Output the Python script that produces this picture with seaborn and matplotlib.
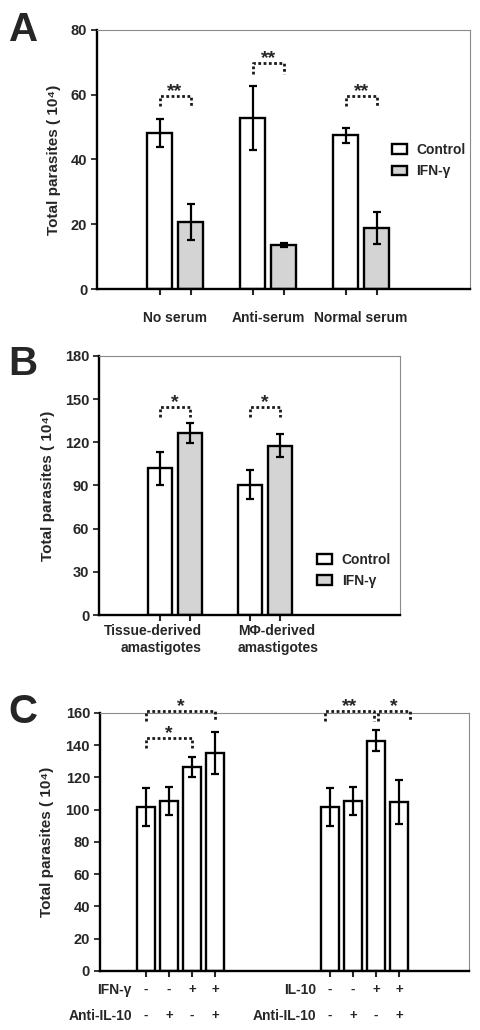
import matplotlib
matplotlib.use("Agg")
import matplotlib.pyplot as plt
import matplotlib.transforms as mtransforms
from matplotlib.container import BarContainer
import pandas as pd
import seaborn as sns

# Panel A: serum treatment
serum_groups = ["No serum", "Anti-serum", "Normal serum"]
a_control = [48.2, 52.8, 47.5]
a_control_sd = [4.3, 9.8, 2.3]
a_ifn = [20.7, 13.6, 18.9]
a_ifn_sd = [5.5, 0.7, 4.9]
a_sig = ["**", "**", "**"]
a_sig_y = [59.7, 69.7, 59.7]

# Panel B: amastigote origin
b_groups = ["Tissue-derived\namastigotes", "M\u03a6-derived\namastigotes"]
b_control = [101.9, 90.6]
b_control_sd = [11.6, 10.0]
b_ifn = [126.2, 117.7]
b_ifn_sd = [7.0, 8.2]
b_sig = ["*", "*"]
b_sig_y = [144.3, 144.3]

# Panel C: cytokine / anti-IL-10 combinations
c_cytokines = ["IFN-\u03b3", "IL-10"]
c_conditions = ["-/-", "-/+", "+/-", "+/+"]
c_cyto_signs = ["-", "-", "+", "+"]
c_anti_signs = ["-", "+", "-", "+"]
c_ifn_vals = [101.9, 105.6, 126.5, 135.0]
c_ifn_sd = [11.7, 8.7, 6.5, 13.0]
c_il10_vals = [101.9, 105.6, 142.9, 104.8]
c_il10_sd = [11.7, 8.7, 6.7, 13.8]

treatments = ["Control", "IFN-\u03b3"]
ylabel = "Total parasites ( 10\u2074)"

sns.set_theme(style="ticks")
plt.rcParams["font.family"] = ["Liberation Sans", "DejaVu Sans"]
plt.rcParams["font.weight"] = "bold"
plt.rcParams["axes.labelweight"] = "bold"

fig = plt.figure(figsize=(4.8, 10.3), dpi=100)
ax_a = fig.add_axes([0.202, 0.7194, 0.777, 0.2515])
ax_b = fig.add_axes([0.206, 0.4029, 0.627, 0.2515])
ax_c = fig.add_axes([0.208, 0.0573, 0.769, 0.2505])


def style_axes(ax):
    for side in ["left", "bottom"]:
        ax.spines[side].set_linewidth(1.7)
        ax.spines[side].set_color("black")
    for side in ["top", "right"]:
        ax.spines[side].set_visible(True)
        ax.spines[side].set_linewidth(0.8)
        ax.spines[side].set_color("#8a8a8a")
    ax.tick_params(axis="y", which="major", direction="out", length=4, width=1.3,
                   labelsize=10.5, pad=3)
    ax.tick_params(axis="x", which="major", direction="out", length=4, width=1.5)
    ax.set_xlabel("")
    ax.set_ylabel(ylabel, fontsize=11, fontweight="bold")


def bar_containers(ax):
    return [c for c in ax.containers if isinstance(c, BarContainer)]


def bar_centers(ax):
    return [[p.get_x() + p.get_width() / 2 for p in c.patches] for c in bar_containers(ax)]


def add_errorbars(ax, sds_per_container):
    for cont, sds in zip(bar_containers(ax), sds_per_container):
        xs = [p.get_x() + p.get_width() / 2 for p in cont.patches]
        ys = [p.get_height() for p in cont.patches]
        ax.errorbar(xs, ys, yerr=sds, fmt="none", ecolor="black", elinewidth=1.6,
                    capsize=3, capthick=1.6, zorder=5)


def bracket(ax, x1, x2, y, leg, text, fs=14):
    ax.plot([x1, x1, x2, x2], [y - leg, y, y, y - leg], ls=(0, (1, 0.9)), color="#1a1a1a",
            lw=2.0, clip_on=False, zorder=6)
    ax.text((x1 + x2) / 2, y, text, ha="center", va="baseline", fontsize=fs,
            fontweight="bold", clip_on=False)


def paired_panel(ax, groups, ctrl, ifn, ctrl_sd, ifn_sd, ymax, step):
    df = pd.DataFrame({
        "group": groups * 2,
        "treatment": [treatments[0]] * len(groups) + [treatments[1]] * len(groups),
        "value": ctrl + ifn,
    })
    sns.barplot(data=df, x="group", y="value", hue="treatment", order=groups,
                hue_order=treatments, palette=["white", "#d4d4d4"], edgecolor="black",
                linewidth=1.7, width=0.667, gap=0.2, errorbar=None, ax=ax)
    centers = bar_centers(ax)
    add_errorbars(ax, [ctrl_sd, ifn_sd])
    ax.set_ylim(0, ymax)
    ax.set_yticks(range(0, ymax + 1, step))
    style_axes(ax)
    ax.set_xticks(sorted(centers[0] + centers[1]), labels=[])
    return centers


def panel_legend(ax, anchor, spacing):
    handles = bar_containers(ax)[:2]
    ax.legend(handles, treatments, frameon=False, loc="upper left", bbox_to_anchor=anchor,
              borderpad=0, borderaxespad=0, handlelength=1.1, handleheight=0.7,
              handletextpad=0.7, labelspacing=spacing, fontsize=10)


# ---- Panel A ----
ca = paired_panel(ax_a, serum_groups, a_control, a_ifn, a_control_sd, a_ifn_sd, 80, 20)
ax_a.set_xlim(-0.84, 3.17)
ax_a.set_xticks(range(len(serum_groups)), labels=serum_groups, minor=True)
ax_a.tick_params(axis="x", which="minor", length=0, pad=16, labelsize=10)
for i, (s, y) in enumerate(zip(a_sig, a_sig_y)):
    bracket(ax_a, ca[0][i], ca[1][i], y, 3.3, s)
panel_legend(ax_a, (0.79, 0.565), 0.55)
ax_a.yaxis.set_label_coords(-0.097, 0.5)

# ---- Panel B ----
cb = paired_panel(ax_b, b_groups, b_control, b_ifn, b_control_sd, b_ifn_sd, 180, 30)
ax_b.set_xlim(-0.84, 2.5)
for i, (s, y) in enumerate(zip(b_sig, b_sig_y)):
    bracket(ax_b, cb[0][i], cb[1][i], y, 7, s)
blend_b = mtransforms.blended_transform_factory(ax_b.transData, ax_b.transAxes)
bcont = bar_containers(ax_b)
p_right = bcont[1].patches[0]
p_left = bcont[0].patches[1]
ax_b.text(p_right.get_x() + p_right.get_width(), -0.035, b_groups[0], transform=blend_b,
          ha="right", va="top", multialignment="right", fontsize=10, linespacing=1.3)
ax_b.text(p_left.get_x(), -0.035, b_groups[1], transform=blend_b,
          ha="left", va="top", multialignment="left", fontsize=10, linespacing=1.3)
panel_legend(ax_b, (0.724, 0.24), 0.5)
ax_b.yaxis.set_label_coords(-0.146, 0.5)

# ---- Panel C ----
dfc = pd.DataFrame({
    "cytokine": [c_cytokines[0]] * 4 + [c_cytokines[1]] * 4,
    "condition": c_conditions * 2,
    "value": c_ifn_vals + c_il10_vals,
})
sds_c = [[c_ifn_sd[k], c_il10_sd[k]] for k in range(len(c_conditions))]
sns.barplot(data=dfc, x="cytokine", y="value", hue="condition", order=c_cytokines,
            hue_order=c_conditions, palette=["white"] * 4, edgecolor="black",
            linewidth=1.7, width=0.5, gap=0.2, errorbar=None, legend=False, ax=ax_c)
cc = bar_centers(ax_c)  # cc[condition][cytokine]
add_errorbars(ax_c, sds_c)
ax_c.set_ylim(0, 160)
ax_c.set_yticks(range(0, 161, 20))
ax_c.set_xlim(-0.4375, 1.568)
style_axes(ax_c)
ax_c.set_xticks(sorted(x for row in cc for x in row), labels=[])
ax_c.yaxis.set_label_coords(-0.125, 0.5)

# significance brackets
bracket(ax_c, cc[0][0], cc[3][0], 161, 6, "*")
bracket(ax_c, cc[0][0], cc[2][0], 144.3, 6.3, "*")
bracket(ax_c, cc[0][1] - 0.025, cc[2][1] - 0.012, 161, 6, "**")
bracket(ax_c, cc[2][1] + 0.012, cc[3][1] + 0.06, 161, 6, "*")

# sign rows below the axis
blend_c = mtransforms.blended_transform_factory(ax_c.transData, ax_c.transAxes)
for g, name in enumerate(c_cytokines):
    for k in range(len(c_conditions)):
        ax_c.text(cc[k][g], -0.074, c_cyto_signs[k], transform=blend_c, ha="center",
                  va="center", fontsize=9.5)
        ax_c.text(cc[k][g], -0.174, c_anti_signs[k], transform=blend_c, ha="center",
                  va="center", fontsize=9.5)
    ax_c.annotate(name, xy=(cc[0][g], -0.074), xycoords=blend_c, xytext=(-10, 0),
                  textcoords="offset points", ha="right", va="center", fontsize=10)
    ax_c.annotate("Anti-IL-10", xy=(cc[0][g], -0.174), xycoords=blend_c, xytext=(-10, 0),
                  textcoords="offset points", ha="right", va="center", fontsize=10)

# panel letters
for letter, y in zip("ABC", [0.960, 0.636, 0.298]):
    fig.text(0.018, y, letter, fontsize=29, fontweight="heavy", va="baseline", ha="left")

fig.savefig("out.png", dpi=100, facecolor="white")
